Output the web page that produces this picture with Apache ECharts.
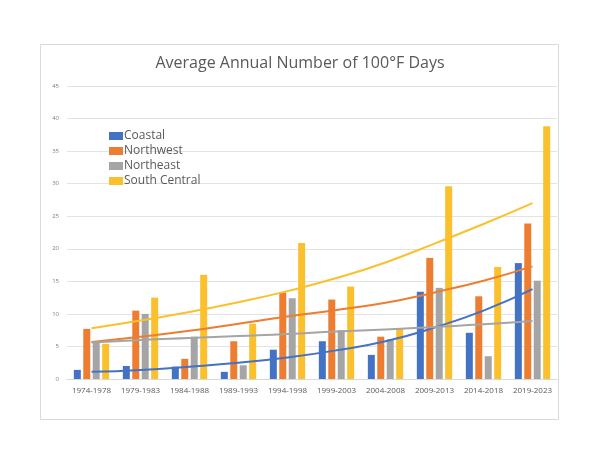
<!DOCTYPE html>
<html>
<head>
<meta charset="utf-8">
<script src="https://cdn.jsdelivr.net/npm/echarts@6/dist/echarts.min.js"></script>
<style>
  html, body { margin: 0; padding: 0; background: #fff; }
  #chart { width: 600px; height: 464px; }
</style>
</head>
<body>
<div id="chart"></div>
<script>
const periods = ['1974-1978', '1979-1983', '1984-1988', '1989-1993', '1994-1998',
                 '1999-2003', '2004-2008', '2009-2013', '2014-2018', '2019-2023']

// bar values (days per year)
const coastal      = [1.4, 2.0, 1.9, 1.1, 4.5, 5.8, 3.7, 13.4, 7.1, 17.8]
const northwest    = [7.7, 10.5, 3.1, 5.8, 13.3, 12.2, 6.5, 18.6, 12.7, 23.9]
const northeast    = [5.7, 10.0, 6.5, 2.1, 12.4, 7.5, 6.1, 14.0, 3.5, 15.1]
const southCentral = [5.4, 12.5, 16.0, 8.5, 20.9, 14.2, 7.8, 29.6, 17.2, 38.8]

// trend lines
const coastalTrend      = [1.1, 1.4, 1.9, 2.5, 3.3, 4.4, 5.8, 7.9, 10.5, 13.8]
const northwestTrend    = [5.7, 6.5, 7.4, 8.5, 9.6, 10.6, 11.7, 13.3, 15.1, 17.3]
const northeastTrend    = [5.6, 6.0, 6.3, 6.6, 6.9, 7.3, 7.6, 8.0, 8.4, 8.9]
const southCentralTrend = [7.8, 9.0, 10.3, 11.8, 13.5, 15.5, 17.9, 20.8, 23.8, 27.0]

const colors = {
    coastal: '#4472C4',
    northwest: '#ED7D31',
    northeast: '#A5A5A5',
    southCentral: '#FBC02D'
}

let chart = echarts.init(document.getElementById('chart'))

function bar(name, data, color) {
    return {
        name: name,
        type: 'bar',
        data: data,
        barWidth: 7,
        barGap: '35%',
        itemStyle: { color: color },
        z: 2
    }
}

function trend(data, color) {
    return {
        type: 'line',
        data: data,
        smooth: true,
        symbol: 'none',
        lineStyle: { color: color, width: 2 },
        z: 3,
        silent: true
    }
}

let option = {
    animation: false,
    backgroundColor: '#fff',
    graphic: [{
        type: 'rect',
        shape: { x: 40.5, y: 44.5, width: 518, height: 375 },
        style: { fill: 'none', stroke: '#d9d9d9', lineWidth: 1 },
        z: -1
    }],
    title: {
        text: 'Average Annual Number of 100°F Days',
        left: 'center',
        top: 50,
        textStyle: {
            fontFamily: 'Open Sans',
            fontSize: 16,
            fontWeight: 'normal',
            color: '#595959'
        }
    },
    legend: {
        orient: 'vertical',
        left: 104,
        top: 125,
        itemWidth: 14,
        itemHeight: 8,
        itemGap: 3,
        icon: 'rect',
        data: ['Coastal', 'Northwest', 'Northeast', 'South Central'],
        textStyle: {
            fontFamily: 'Open Sans',
            fontSize: 12,
            color: '#595959',
            padding: [0, 0, 0, -4]
        }
    },
    grid: {
        left: 67,
        right: 43,
        top: 86,
        bottom: 85
    },
    xAxis: {
        type: 'category',
        data: periods,
        axisLine: { lineStyle: { color: '#d9d9d9' } },
        axisTick: { show: false },
        axisLabel: {
            fontFamily: 'Open Sans',
            fontSize: 8,
            color: '#595959',
            margin: 8,
            interval: 0
        }
    },
    yAxis: {
        type: 'value',
        min: 0,
        max: 45,
        interval: 5,
        axisLine: { show: false },
        axisTick: { show: false },
        splitLine: { lineStyle: { color: '#e3e3e3' } },
        axisLabel: {
            fontFamily: 'Open Sans',
            fontSize: 6,
            color: '#7f7f7f',
            margin: 8
        }
    },
    series: [
        bar('Coastal', coastal, colors.coastal),
        bar('Northwest', northwest, colors.northwest),
        bar('Northeast', northeast, colors.northeast),
        bar('South Central', southCentral, colors.southCentral),
        trend(coastalTrend, colors.coastal),
        trend(northwestTrend, colors.northwest),
        trend(northeastTrend, colors.northeast),
        trend(southCentralTrend, colors.southCentral)
    ]
}

chart.setOption(option)
</script>
</body>
</html>
